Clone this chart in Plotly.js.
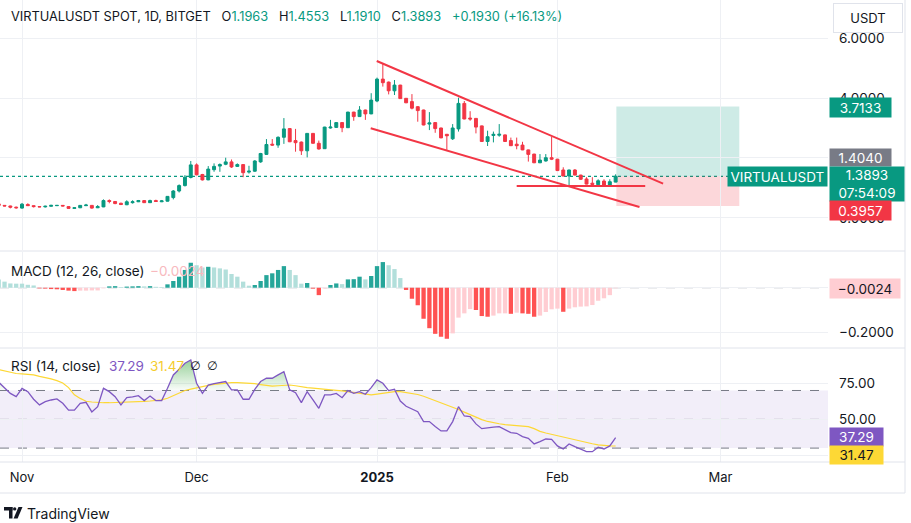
<!DOCTYPE html>
<html><head><meta charset="utf-8">
<script src="https://cdn.plot.ly/plotly-3.0.1.min.js"></script>
<style>html,body{margin:0;padding:0;background:#fff;}#chart{width:911px;height:523px;}</style>
</head><body><div id="chart"></div>
<script>
// ---------- DATA (daily, first candle 2024-10-28) ----------
const firstDay = [2024, 9, 28];
const openP = [0.47,0.42,0.40,0.36,
 0.33,0.45,0.41,0.38,0.37,0.39,0.41,0.42,0.38,0.32, 0.34,0.41,0.42,0.34,0.37,0.58,0.55,0.49,0.44,0.51, 0.54,0.58,0.51,0.58,0.54,0.56,0.68,0.90,1.08,1.35,
 1.77,1.45,1.27,1.61,1.73,1.79,1.87,1.72,1.78,1.53, 1.56,1.87,2.12,2.46,2.43,2.69,2.98,2.58,2.53,2.24, 2.82,2.49,2.31,3.00,3.02,3.18,3.01,3.53,3.38,3.60, 3.47,
 3.90,4.63,4.53,4.24,4.43,3.99,3.88,3.71,3.60,3.13, 3.18,3.00,2.79,2.64,2.97,3.82,3.33,3.32,3.07,2.55, 2.75,2.76,2.77,2.58,2.46,2.43,2.27,2.13,1.84,1.90, 2.01,
 1.96,1.60,1.40,1.60,1.43,1.30,1.16,1.11,1.23,1.10,1.1963];
const highP = [0.50,0.43,0.41,0.38,
 0.50,0.49,0.42,0.39,0.41,0.44,0.43,0.43,0.39,0.35, 0.43,0.47,0.43,0.43,0.62,0.62,0.56,0.51,0.59,0.59, 0.60,0.59,0.61,0.61,0.60,0.73,0.93,1.12,1.43,1.90,
 1.82,1.47,1.73,1.82,1.82,2.01,1.95,1.82,1.79,1.74, 1.93,2.17,2.63,2.63,2.72,3.33,3.00,2.97,2.55,2.83, 2.83,2.58,3.04,3.27,3.19,3.19,3.54,3.54,3.73,3.61, 4.16,
 4.68,5.16,4.55,4.60,4.44,4.00,4.13,3.73,3.61,3.53, 3.19,3.01,2.80,3.13,4.01,3.90,3.56,3.33,3.08,2.91, 2.88,3.13,2.78,2.68,2.68,2.54,2.28,2.14,2.13,2.13, 2.71,
 1.97,1.69,1.61,1.63,1.44,1.36,1.36,1.29,1.29,1.29,1.4553];
const lowP = [0.37,0.39,0.32,0.31,
 0.31,0.40,0.35,0.36,0.35,0.38,0.40,0.39,0.31,0.31, 0.33,0.40,0.31,0.33,0.36,0.49,0.46,0.43,0.43,0.48, 0.53,0.50,0.50,0.54,0.53,0.55,0.62,0.85,1.05,1.32,
 1.42,1.25,1.26,1.54,1.54,1.76,1.67,1.70,1.36,1.48, 1.54,1.84,2.10,2.41,2.34,2.47,2.53,2.21,2.10,2.02, 2.48,2.28,2.30,2.98,3.00,2.86,3.00,3.24,3.37,3.27, 3.46,
 3.86,4.38,4.12,4.10,3.98,3.83,3.62,3.21,3.09,2.93, 2.84,2.66,2.27,2.60,2.88,3.29,3.24,2.82,2.54,2.40, 2.52,2.71,2.54,2.40,2.29,2.26,1.88,1.83,1.83,1.88, 1.93,
 1.57,1.39,1.04,1.42,1.27,1.12,1.08,1.10,1.09,1.09,1.1910];
const closeP = [0.42,0.40,0.36,0.34,
 0.46,0.41,0.38,0.37,0.39,0.42,0.42,0.40,0.32,0.34, 0.42,0.43,0.33,0.38,0.58,0.55,0.48,0.45,0.54,0.54, 0.58,0.51,0.58,0.55,0.57,0.72,0.90,1.08,1.36,1.77,
 1.44,1.27,1.63,1.72,1.78,1.87,1.70,1.78,1.51,1.56, 1.90,2.15,2.45,2.43,2.69,2.97,2.54,2.51,2.24,2.82, 2.49,2.30,3.03,3.03,3.18,3.01,3.53,3.38,3.60,3.47, 3.93,
 4.63,4.51,4.24,4.43,3.98,3.84,3.66,3.58,3.10,3.17, 2.98,2.67,2.74,3.00,3.82,3.30,3.30,3.03,2.55,2.71, 2.79,2.79,2.55,2.41,2.41,2.27,2.12,1.84,1.93,2.01, 1.96,
 1.58,1.40,1.60,1.43,1.29,1.13,1.12,1.24,1.10,1.21,1.3893];
const macdHist = [0.037,0.027,0.019,0.018,
 0.018,0.013,0.010,-0.003,-0.004,-0.006,-0.007,-0.010,-0.013,-0.015, -0.013,-0.013,-0.012,-0.012,-0.003,0.006,0.007,0.003,0.005,0.006, 0.007,0.006,0.007,0.004,0.003,0.015,0.030,0.049,0.079,0.111,
 0.100,0.090,0.093,0.090,0.086,0.081,0.061,0.049,0.027,0.009, 0.012,0.030,0.056,0.064,0.079,0.096,0.079,0.056,0.018,0.021, -0.004,-0.033,-0.004,0.012,0.019,0.016,0.037,0.038,0.049,0.037, 0.052,
 0.096,0.114,0.100,0.083,0.043,-0.010,-0.049,-0.078,-0.138,-0.180, -0.205,-0.218,-0.227,-0.203,-0.133,-0.114,-0.095,-0.099,-0.126,-0.129, -0.124,-0.114,-0.114,-0.116,-0.111,-0.114,-0.116,-0.129,-0.124,-0.108, -0.096,
 -0.093,-0.107,-0.093,-0.087,-0.084,-0.083,-0.077,-0.058,-0.047,-0.033,-0.0024];
const rsi = [75.7,71.5,68,65.7,
 71.5,69.2,63.9,60,62.3,63.4,64.1,61.1,56.3,56.3, 61.1,61.8,55.1,58.8,71.5,69.2,65.7,60,65,65.5, 66.4,63,66.2,63,63,71.5,80.8,84.7,88.9,91.2,
 75,68,73.8,74.8,75.5,76.2,70.4,70.4,63.9,63.9, 70.8,76.2,78.5,78.5,80.8,83.1,70.4,68.5,61.6,69.2, 63.4,57.6,66.9,66.9,68,65,69.9,68,69.2,67.4, 72,
 77.3,75,69.9,70.8,62.7,59,57,55.3,48.4,48.4, 45,41.9,41.9,48.4,58.8,52.3,51.9,46.8,43.5,44.2, 44.5,44.9,42.6,40.7,40.3,38,36.8,32.9,34.5,36.3, 36.1,
 31.5,29.4,32.9,31,29.4,27.5,27.5,30.6,29.4,31.5,37.29];
const rsiMA = [84.5,83.5,82.5,81.8,
 81.5,81.3,80.8,79.8,79,78,76.8,75.2,72,67, 64.5,62.5,62,61.6,61.5,61.5,61.6,61.7,61.8,61.8, 62,62.4,62.7,63,63.5,64.6,66.5,68.5,70,71,
 72,72.8,73.5,74.2,74.8,75.3,75.5,75.5,75.3,75, 74.8,74,73.5,73,73.3,73.8,73.8,73.3,72.5,72, 71.7,71.2,70.6,70.4,70.1,69.7,69.2,68.6,68,67.2, 66.9,
 67.5,68,68.8,69.2,69.2,68.7,67.8,67.2,66,64.5, 63.2,61.5,59.8,58.3,56.8,55,53.2,51.5,49.8,48.5, 47.5,46.9,46.3,45.9,45.6,45.2,44.9,43.5,41.6,40.5, 39.5,
 38.7,37.8,36.8,35.8,34.8,33.8,33,32.3,31.8,31.5,31.47];
const monthTicks = ['2024-11-01','2024-12-01','2025-01-01','2025-02-01','2025-03-01'];
const monthLabels = ['Nov','Dec','<b>2025</b>','Feb','Mar'];
// gridline levels; labels hidden under price tags in the reference are left blank
const priceTicks = [0,2,4,6];
const priceTickText = ['0.0000','','4.0000','6.0000'];
const macdTicks = [-0.2,0];
const macdTickText = ['\u22120.2000',''];
const rsiTicks = [25,50,75];
const rsiTickText = ['','50.00','75.00'];
// drawing tools (date, price)
const trendLines = [
  ['2024-12-31 22:50', 5.233, '2025-02-19 03:50', 1.143],
  ['2024-12-30 22:00', 2.99, '2025-02-15 02:20', 0.367],
  ['2025-01-25 00:00', 1.067, '2025-02-16 02:00', 1.067]
];
const posStart = '2025-02-11 03:00', posEnd = '2025-03-04 06:00';
const entryPrice = 1.3893, targetPrice = 3.7133, stopPrice = 0.3957;
const highLabel = 1.4040;

// ---------- BUILD ----------
const DAY = 86400000;
const t0 = Date.UTC(firstDay[0], firstDay[1], firstDay[2]);
const dates = openP.map((_, i) => t0 + i * DAY);
const F = 'Inter, Roboto, sans-serif';
const INK = '#131722';
const UP = '#089981', DN = '#f23645';

const histColors = macdHist.map((v, i) => {
  const p = i > 0 ? macdHist[i - 1] : v;
  if (v >= 0) return v > p ? '#26a69a' : '#b2dfdb';
  return v < p ? '#ff5252' : '#ffcdd2';
});

// overbought fill (RSI above 70)
const obX = [], obY = [], obBase = [];
for (let i = 0; i < rsi.length; i++) {
  if (i > 0 && (rsi[i - 1] - 70) * (rsi[i] - 70) < 0) {
    const t = (70 - rsi[i - 1]) / (rsi[i] - rsi[i - 1]);
    obX.push(dates[i - 1] + t * DAY); obY.push(70); obBase.push(70);
  }
  obX.push(dates[i]); obY.push(Math.max(rsi[i], 70)); obBase.push(70);
}

const W = 828, H = 462;
const X = px => px / W;
const Y = py => (H - py) / H;

const traces = [
  {type: 'candlestick', x: dates, open: openP, high: highP, low: lowP, close: closeP,
   xaxis: 'x', yaxis: 'y', hoverinfo: 'none', whiskerwidth: 0,
   increasing: {line: {color: UP, width: 1}, fillcolor: UP},
   decreasing: {line: {color: DN, width: 1}, fillcolor: DN}},
  {type: 'bar', x: dates, y: macdHist, xaxis: 'x2', yaxis: 'y2', width: 0.74 * DAY,
   marker: {color: histColors, line: {width: 0}}, hoverinfo: 'none'},
  {type: 'scatter', mode: 'lines', x: obX, y: obBase, xaxis: 'x3', yaxis: 'y3',
   line: {width: 0, color: 'rgba(0,0,0,0)'}, hoverinfo: 'none'},
  {type: 'scatter', mode: 'lines', x: obX, y: obY, xaxis: 'x3', yaxis: 'y3', fill: 'tonexty',
   line: {width: 0, color: 'rgba(0,0,0,0)'}, hoverinfo: 'none',
   fillcolor: 'rgba(76,175,80,0.3)',
   fillgradient: {type: 'vertical', start: 70, stop: 92,
     colorscale: [[0, 'rgba(76,175,80,0.03)'], [1, 'rgba(76,175,80,0.6)']]}},
  {type: 'scatter', mode: 'lines', x: dates, y: rsiMA, xaxis: 'x3', yaxis: 'y3',
   line: {color: '#fdd835', width: 1.2}, hoverinfo: 'none'},
  {type: 'scatter', mode: 'lines', x: dates, y: rsi, xaxis: 'x3', yaxis: 'y3',
   line: {color: '#7e57c2', width: 1.3}, hoverinfo: 'none'}
];

const xStart = t0 + 0.22 * DAY, xEnd = Date.UTC(2025, 2, 19, 11, 45);
const xCommon = {type: 'date', range: [xStart, xEnd], showgrid: true, gridcolor: '#eef0f4', gridwidth: 1,
  tickvals: monthTicks, ticktext: monthLabels, zeroline: false, showline: false, ticks: '',
  fixedrange: true, rangeslider: {visible: false}};
const yCommon = {side: 'right', showgrid: true, gridcolor: '#eef0f4', zeroline: false, showline: false,
  ticks: '', ticklabelstandoff: 10, tickfont: {family: F, size: 13.5, color: INK}, fixedrange: true};

const shapes = [];
shapes.push({type: 'rect', xref: 'x', yref: 'y', x0: posStart, x1: posEnd, y0: entryPrice, y1: targetPrice,
  fillcolor: 'rgba(8,153,129,0.2)', line: {width: 0}, layer: 'below'});
shapes.push({type: 'rect', xref: 'x', yref: 'y', x0: posStart, x1: posEnd, y0: stopPrice, y1: entryPrice,
  fillcolor: 'rgba(242,54,69,0.2)', line: {width: 0}, layer: 'below'});
shapes.push({type: 'line', xref: 'paper', yref: 'y', x0: 0, x1: 1, y0: closeP[closeP.length - 1], y1: closeP[closeP.length - 1],
  line: {color: UP, width: 1.2, dash: 'dot'}, layer: 'below'});
trendLines.forEach(t => shapes.push({type: 'line', xref: 'x', yref: 'y', x0: t[0], y0: t[1], x1: t[2], y1: t[3],
  line: {color: DN, width: 2}, layer: 'above'}));
shapes.push({type: 'line', xref: 'paper', yref: 'y2', x0: 0, x1: 1, y0: 0, y1: 0,
  line: {color: '#a5a8b0', width: 1, dash: 'dash'}, layer: 'below'});
shapes.push({type: 'rect', xref: 'paper', yref: 'y3', x0: 0, x1: 1, y0: 30, y1: 70,
  fillcolor: 'rgba(126,87,194,0.1)', line: {width: 0}, layer: 'below'});
[[70, 1], [50, 0.5], [30, 1]].forEach(l => shapes.push({type: 'line', xref: 'paper', yref: 'y3', x0: 0, x1: 1,
  y0: l[0], y1: l[0], opacity: l[1], line: {color: '#787b86', width: 1, dash: 'dash'}, layer: 'below'}));
[251, 348, 462, 493].forEach(py => shapes.push({type: 'line', xref: 'paper', yref: 'paper',
  x0: 0, x1: X(905), y0: Y(py), y1: Y(py), line: {color: '#e0e3eb', width: 1}}));
shapes.push({type: 'line', xref: 'paper', yref: 'paper', x0: X(905), x1: X(905), y0: Y(0), y1: Y(493),
  line: {color: '#e0e3eb', width: 1}});
// TradingView logo glyph
shapes.push({type: 'rect', xref: 'paper', yref: 'paper', x0: X(4), x1: X(12.5), y0: Y(507), y1: Y(510.5), fillcolor: INK, line: {width: 0}});
shapes.push({type: 'rect', xref: 'paper', yref: 'paper', x0: X(9), x1: X(12.5), y0: Y(507), y1: Y(518.5), fillcolor: INK, line: {width: 0}});
shapes.push({type: 'circle', xref: 'paper', yref: 'paper', x0: X(13), x1: X(16.4), y0: Y(507.2), y1: Y(510.6), fillcolor: INK, line: {width: 0}});
shapes.push({type: 'path', xref: 'paper', yref: 'paper',
  path: `M ${X(18.5)} ${Y(507)} L ${X(22.5)} ${Y(507)} L ${X(17.6)} ${Y(518.5)} L ${X(13.6)} ${Y(518.5)} Z`,
  fillcolor: INK, line: {width: 0}});

function ann(xpx, ypx, text, o) {
  return Object.assign({xref: 'paper', yref: 'paper', x: X(xpx), y: Y(ypx), text: text, showarrow: false,
    xanchor: 'left', yanchor: 'middle', font: {family: F, size: 13, color: INK}}, o || {});
}
function box(ypx, text, bg, fg, w, h, x0) {
  return ann(x0 || 829, ypx, text, {bgcolor: bg, borderpad: 2, width: w, height: h, align: 'center',
    font: {family: F, size: 13.5, color: fg}});
}
const g = s => `<span style="color:${UP}">${s}</span>`;
const sp = '\u00a0\u00a0\u00a0';
const fmt = v => v.toFixed(4);
const annotations = [
  ann(9, 16, 'VIRTUALUSDT SPOT, 1D, BITGET' + sp + 'O' + g(fmt(openP[openP.length - 1])) + sp + 'H' + g(fmt(highP[highP.length - 1])) +
    sp + 'L' + g(fmt(lowP[lowP.length - 1])) + sp + 'C' + g(fmt(closeP[closeP.length - 1])) + sp + g('+0.1930 (+16.13%)'),
    {font: {family: F, size: 12.8, color: INK}}),
  ann(833, 18, 'USDT', {bgcolor: '#ffffff', bordercolor: '#e0e3eb', borderwidth: 1, borderpad: 3, width: 62, height: 22,
    align: 'center', font: {family: F, size: 13, color: INK}}),
  box(107.5, fmt(targetPrice), UP, '#ffffff', 57, 15),
  box(157.5, fmt(highLabel), '#787b86', '#ffffff', 57, 13),
  box(184, fmt(entryPrice) + '<br>07:54:09', UP, '#ffffff', 70, 30),
  box(210.5, fmt(stopPrice), DN, '#ffffff', 57, 15),
  ann(828, 176.5, 'VIRTUALUSDT', {xanchor: 'right', bgcolor: UP, borderpad: 2, width: 95, height: 15, align: 'center',
    font: {family: F, size: 13.5, color: '#ffffff'}}),
  ann(9, 270.5, 'MACD (12, 26, close)', {font: {family: F, size: 13.5, color: INK}}),
  ann(148, 270.5, '\u22120.0024', {font: {family: F, size: 13.5, color: '#f8b9be'}}),
  box(288, '\u22120.0024', '#ffcdd2', INK, 66, 15),
  ann(9, 365.5, 'RSI (14, close)', {font: {family: F, size: 13.5, color: INK}}),
  ann(107, 365.5, rsi[rsi.length - 1].toFixed(2), {font: {family: F, size: 13.5, color: '#7e57c2'}}),
  ann(148, 365.5, rsiMA[rsiMA.length - 1].toFixed(2), {font: {family: F, size: 13.5, color: '#f5cd2e'}}),
  ann(188, 365.5, '\u2205', {font: {family: 'DejaVu Sans', size: 12, color: INK}}),
  ann(205, 365.5, '\u2205', {font: {family: 'DejaVu Sans', size: 12, color: INK}}),
  box(437, rsi[rsi.length - 1].toFixed(2), '#7e57c2', '#ffffff', 49, 14),
  box(455, rsiMA[rsiMA.length - 1].toFixed(2), '#fdd835', INK, 49, 14),
  ann(25, 513, 'TradingView', {font: {family: F, size: 14, color: INK}})
];

const layout = {
  width: 911, height: 523, margin: {l: 0, r: 83, t: 0, b: 61},
  paper_bgcolor: '#ffffff', plot_bgcolor: '#ffffff', showlegend: false,
  boxgap: 0.28, bargap: 0.2, dragmode: false,
  xaxis: Object.assign({}, xCommon, {anchor: 'y', showticklabels: false}),
  xaxis2: Object.assign({}, xCommon, {anchor: 'y2', showticklabels: false}),
  xaxis3: Object.assign({}, xCommon, {anchor: 'y3', showticklabels: true, ticklabelstandoff: 6,
    tickfont: {family: F, size: 13, color: INK}}),
  yaxis: Object.assign({}, yCommon, {anchor: 'x', domain: [0.4589, 1], range: [-1.067, 7.267],
    tickvals: priceTicks, ticktext: priceTickText}),
  yaxis2: Object.assign({}, yCommon, {anchor: 'x2', domain: [0.2489, 0.4545], range: [-0.2636, 0.1587],
    tickvals: macdTicks, ticktext: macdTickText}),
  yaxis3: Object.assign({}, yCommon, {anchor: 'x3', domain: [0, 0.2446], range: [20.35, 98.8],
    tickvals: rsiTicks, ticktext: rsiTickText}),
  shapes: shapes, annotations: annotations
};
Plotly.newPlot('chart', traces, layout, {displayModeBar: false, staticPlot: true});
</script></body></html>
